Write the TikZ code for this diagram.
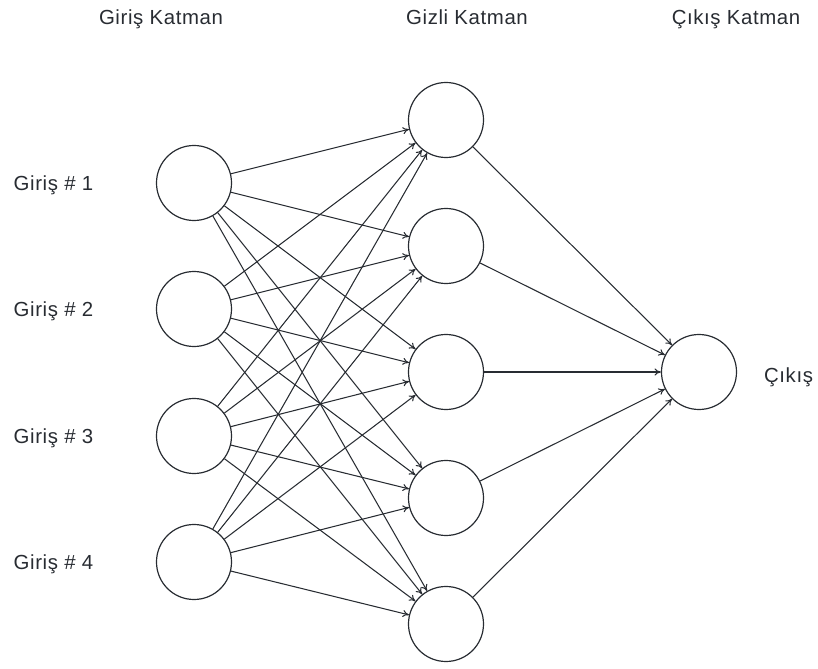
\documentclass[tikz,border=0pt]{standalone}
\usepackage{fontspec}
\setmainfont{Liberation Sans}
\newfontfamily\etiketfont[LetterSpace=3]{Liberation Sans}
\usetikzlibrary{positioning,arrows.meta}
\definecolor{cizgi}{RGB}{40,44,50}
\tikzset{
  neuron/.style={draw=cizgi, circle, minimum size=1.875cm, inner sep=0pt, line width=0.85pt},
  edge/.style={-{To[length=4.5pt,width=5pt]}, draw=cizgi, line width=0.75pt},
  etiket/.style={font=\etiketfont\fontsize{14.5}{16}\selectfont, text=cizgi, inner sep=1pt},
}
\begin{document}
\begin{tikzpicture}[x=0.025cm,y=-0.025cm]
  \def\xin{194} \def\xhid{446} \def\xout{699}
  \useasboundingbox (0,0) rectangle (818,669);
  % katman basliklari
  \node[etiket] (tgiris) at (161,19) {Giriş Katman};
  \node[etiket] (tgizli) at (467,17) {Gizli Katman};
  \node[etiket] (tcikis) at (736,19) {Çıkış Katman};
  % giris katmani
  \foreach \i/\y in {1/183,2/309,3/436,4/562} {
    \node[neuron] (g\i) at (\xin,\y) {};
    \node[etiket, anchor=west] (lg\i) at (12,\y+2) {Giriş \# \i};
  }
  % gizli katman
  \foreach \j/\y in {1/120,2/246,3/372,4/498,5/624}
    \node[neuron] (h\j) at (\xhid,\y) {};
  % cikis katmani
  \node[neuron] (c) at (\xout,372) {};
  \node[etiket, right=18pt of c, yshift=-4pt] (lc) {Çıkış};
  % baglantilar
  \foreach \i in {1,...,4}
    \foreach \j in {1,...,5}
      \draw[edge] (g\i) -- (h\j);
  \foreach \j in {1,...,5}
    \draw[edge] (h\j) -- (c);
\end{tikzpicture}
\end{document}
